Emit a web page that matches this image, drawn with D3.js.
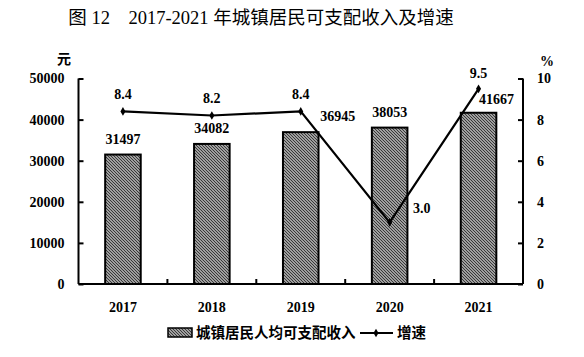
<!DOCTYPE html>
<html><head><meta charset="utf-8">
<script src="https://cdn.jsdelivr.net/npm/d3@7/dist/d3.min.js"></script>
<style>body{margin:0;background:#fff;}svg{display:block;}</style>
</head><body>
<script>
const years = ["2017","2018","2019","2020","2021"];
const income = [31497, 34082, 36945, 38053, 41667];
const growth = [8.4, 8.2, 8.4, 3.0, 9.5];
const leftTicks = [0, 10000, 20000, 30000, 40000, 50000];
const rightTicks = [0, 2, 4, 6, 8, 10];
const incomeLabelDx = [0, 0, 37, 0, 18];
const incomeLabelDy = [0, 0, 0, 0, 2];
const growthLabelDx = [0, 0, 0, 32, 0];
const growthLabelDy = [0, 0, 0, 3, 1];

const W = 584, H = 357;
const svg = d3.select("body").append("svg").attr("width", W).attr("height", H);
const defs = svg.append("defs");
const pat = defs.append("pattern").attr("id","hatch").attr("patternUnits","userSpaceOnUse")
  .attr("width",3).attr("height",3);
pat.append("rect").attr("width",3).attr("height",3).attr("fill","#d0d0d0");
pat.append("path").attr("d","M-1,-1 L4,4 M-1,2 L1,4 M2,-1 L4,1").attr("stroke","#333").attr("stroke-width",1.2);

const serif = "'Liberation Serif','Times New Roman',serif";
const cjk = "'Noto Sans CJK SC','Noto Sans',sans-serif";

const x = d3.scaleBand().domain(years).range([78.5, 523]).padding(0);
const yL = d3.scaleLinear().domain([0, 50000]).range([284, 78.5]);
const yR = d3.scaleLinear().domain([0, 10]).range([284, 78.5]);
const bw = x.bandwidth() * 0.4;

// title
svg.append("text").attr("x", 261).attr("y", 24).attr("text-anchor","middle")
  .style("font-family", serif + "," + cjk).style("font-size","18.5px").attr("fill","#000")
  .text("图 12　2017-2021 年城镇居民可支配收入及增速");

// bars
svg.append("g").selectAll("rect").data(income).join("rect")
  .attr("x",(d,i)=>x(years[i]) + (x.bandwidth()-bw)/2)
  .attr("y", d=>yL(d))
  .attr("width", bw).attr("height", d=>yL(0)-yL(d))
  .attr("fill","url(#hatch)").attr("stroke","#000").attr("stroke-width",2);

// axes
const axL = d3.axisLeft(yL).tickValues(leftTicks).tickSize(-5).tickPadding(14).tickFormat(d3.format("d"));
const gL = svg.append("g").attr("transform","translate(78.5,0)").call(axL);
const axR = d3.axisRight(yR).tickValues(rightTicks).tickSize(-5).tickPadding(14).tickFormat(d3.format("d"));
const gR = svg.append("g").attr("transform","translate(523,0)").call(axR);
const axB = d3.axisBottom(x).tickSize(0).tickPadding(18);
const gB = svg.append("g").attr("transform","translate(0,284)").call(axB);
[gL,gR,gB].forEach(g=>{
  g.select(".domain").attr("stroke","#000").attr("stroke-width",2);
  g.selectAll(".tick line").attr("stroke","#000").attr("stroke-width",2);
  g.selectAll("text").style("font-family",serif).style("font-size","14px").style("font-weight","bold").attr("fill","#000");
});
gL.select(".domain").attr("d","M0,78.5V284");
gR.select(".domain").attr("d","M0,78.5V284");
gB.select(".domain").attr("d","M78.5,0H523");
// category separators
svg.append("g").selectAll("line").data(years.slice(1)).join("line")
  .attr("x1",d=>x(d)).attr("x2",d=>x(d)).attr("y1",284).attr("y2",279)
  .attr("stroke","#000").attr("stroke-width",2);

// unit labels
svg.append("text").attr("x",64).attr("y",64).attr("text-anchor","middle")
  .style("font-family",cjk).style("font-size","14px").style("font-weight","bold").text("元");
svg.append("text").attr("x",547).attr("y",66).attr("text-anchor","middle")
  .style("font-family",serif).style("font-size","14px").style("font-weight","bold").text("%");

// line
const cx = i => x(years[i]) + x.bandwidth()/2;
const line = d3.line().x((d,i)=>cx(i)).y(d=>yR(d));
svg.append("path").datum(growth).attr("d",line).attr("fill","none").attr("stroke","#000").attr("stroke-width",2.2);
svg.append("g").selectAll("path").data(growth).join("path")
  .attr("transform",(d,i)=>`translate(${cx(i)},${yR(d)})`)
  .attr("d", d3.symbol(d3.symbolDiamond, 22)).attr("fill","#000");

// labels
svg.append("g").selectAll("text").data(income).join("text")
  .attr("x",(d,i)=>cx(i)+incomeLabelDx[i]).attr("y",(d,i)=>yL(d)-11+incomeLabelDy[i])
  .attr("text-anchor","middle").style("font-family",serif).style("font-size","14px").style("font-weight","bold")
  .text(d=>d);
svg.append("g").selectAll("text").data(growth).join("text")
  .attr("x",(d,i)=>cx(i)+growthLabelDx[i]).attr("y",(d,i)=>yR(d)-12+growthLabelDy[i])
  .attr("text-anchor","middle").style("font-family",serif).style("font-size","14px").style("font-weight","bold")
  .text(d=>d.toFixed(1));

// legend
const lg = svg.append("g");
lg.append("rect").attr("x",168).attr("y",328).attr("width",24).attr("height",9)
  .attr("fill","url(#hatch)").attr("stroke","#000").attr("stroke-width",1.5);
lg.append("text").attr("x",196).attr("y",338).style("font-family",cjk).style("font-size","14.5px").style("font-weight","bold")
  .text("城镇居民人均可支配收入");
lg.append("line").attr("x1",360).attr("x2",393).attr("y1",333).attr("y2",333).attr("stroke","#000").attr("stroke-width",2);
lg.append("path").attr("transform","translate(376,333)").attr("d",d3.symbol(d3.symbolDiamond,22)).attr("fill","#000");
lg.append("text").attr("x",397).attr("y",338).style("font-family",cjk).style("font-size","14.5px").style("font-weight","bold")
  .text("增速");
</script>
</body></html>
